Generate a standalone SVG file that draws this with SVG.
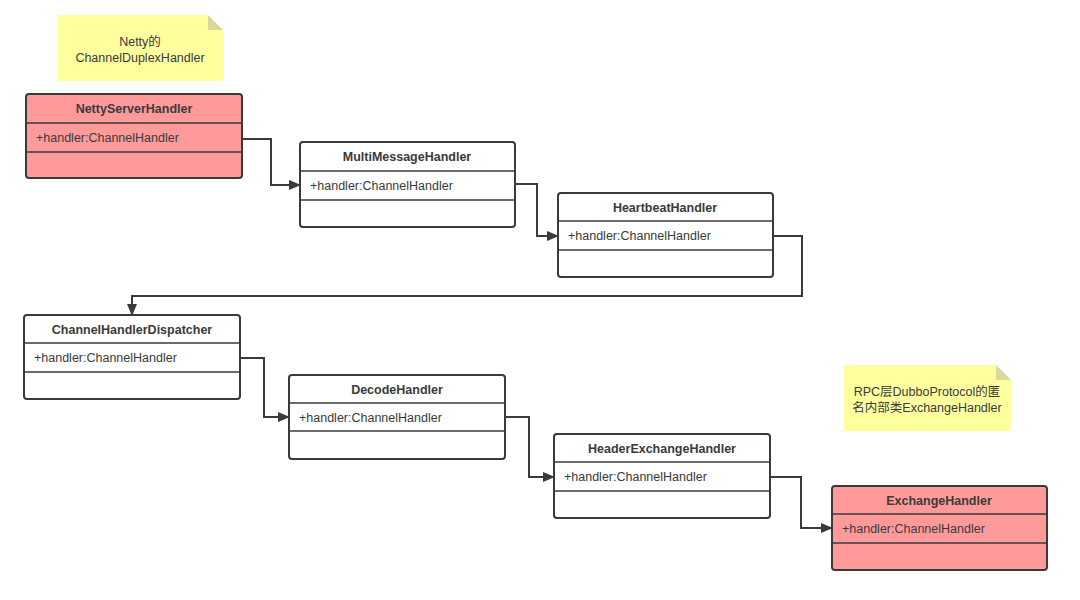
<svg xmlns="http://www.w3.org/2000/svg" width="1080" height="600" viewBox="0 0 1080 600">
<defs>
<style>
.box{fill:#fff;stroke:#3a3a3a;stroke-width:2}
.pink{fill:#ff9a9a}
.div{stroke:#3a3a3a;stroke-width:1.5}
.title{font-family:"Liberation Sans","Noto Sans",Arial,sans-serif;font-size:12.5px;font-weight:bold;fill:#3a3a3a;text-anchor:middle}
.attr{font-family:"Liberation Sans","Noto Sans",Arial,sans-serif;font-size:12.5px;fill:#3a3a3a}
.note{fill:#ffff9e}
.fold{fill:#d9d99a}
.ntext{font-family:"Liberation Sans","Noto Sans CJK SC",sans-serif;font-size:12.5px;fill:#3a3a3a;text-anchor:middle}
.conn{fill:none;stroke:#3a3a3a;stroke-width:2}
</style>
<marker id="arr" markerWidth="12" markerHeight="10" refX="11" refY="5" orient="auto" markerUnits="userSpaceOnUse">
<path d="M0,0 L12,5 L0,10 Z" fill="#3a3a3a"/>
</marker>
</defs>
<rect width="1080" height="600" fill="#fff"/>

<g id="note1">
<path class="note" d="M58,15 H208 L223,30 V81 H58 Z"/>
<path class="fold" d="M208,15 L223,30 H208 Z"/>
<text class="ntext" x="140" y="46">Netty的</text>
<text class="ntext" x="140" y="62">ChannelDuplexHandler</text>
</g>

<g id="note2">
<path class="note" d="M844,365 H996 L1011,380 V431 H844 Z"/>
<path class="fold" d="M996,365 L1011,380 H996 Z"/>
<text class="ntext" x="927" y="396">RPC层DubboProtocol的匿</text>
<text class="ntext" x="927" y="412">名内部类ExchangeHandler</text>
</g>

<g id="NettyServerHandler">
<rect class="box pink" x="26" y="94" width="216" height="84" rx="3"/>
<line class="div" x1="26" y1="123" x2="242" y2="123"/>
<line class="div" x1="26" y1="152" x2="242" y2="152"/>
<text class="title" x="134" y="113">NettyServerHandler</text>
<text class="attr" x="36" y="142">+handler:ChannelHandler</text>
</g>

<g id="MultiMessageHandler">
<rect class="box" x="300" y="142" width="215" height="85" rx="3"/>
<line class="div" x1="300" y1="171" x2="515" y2="171"/>
<line class="div" x1="300" y1="200" x2="515" y2="200"/>
<text class="title" x="407" y="161">MultiMessageHandler</text>
<text class="attr" x="310" y="190">+handler:ChannelHandler</text>
</g>

<g id="HeartbeatHandler">
<rect class="box" x="558" y="193" width="215" height="84" rx="3"/>
<line class="div" x1="558" y1="221" x2="773" y2="221"/>
<line class="div" x1="558" y1="250" x2="773" y2="250"/>
<text class="title" x="665" y="212">HeartbeatHandler</text>
<text class="attr" x="568" y="240">+handler:ChannelHandler</text>
</g>

<g id="ChannelHandlerDispatcher">
<rect class="box" x="24" y="315" width="216" height="84" rx="3"/>
<line class="div" x1="24" y1="343" x2="240" y2="343"/>
<line class="div" x1="24" y1="372" x2="240" y2="372"/>
<text class="title" x="132" y="334">ChannelHandlerDispatcher</text>
<text class="attr" x="34" y="362">+handler:ChannelHandler</text>
</g>

<g id="DecodeHandler">
<rect class="box" x="289" y="375" width="216" height="84" rx="3"/>
<line class="div" x1="289" y1="403" x2="505" y2="403"/>
<line class="div" x1="289" y1="431" x2="505" y2="431"/>
<text class="title" x="397" y="394">DecodeHandler</text>
<text class="attr" x="299" y="422">+handler:ChannelHandler</text>
</g>

<g id="HeaderExchangeHandler">
<rect class="box" x="554" y="434" width="216" height="84" rx="3"/>
<line class="div" x1="554" y1="462" x2="770" y2="462"/>
<line class="div" x1="554" y1="491" x2="770" y2="491"/>
<text class="title" x="662" y="453">HeaderExchangeHandler</text>
<text class="attr" x="564" y="481">+handler:ChannelHandler</text>
</g>

<g id="ExchangeHandler">
<rect class="box pink" x="832" y="486" width="215" height="84" rx="3"/>
<line class="div" x1="832" y1="514" x2="1047" y2="514"/>
<line class="div" x1="832" y1="543" x2="1047" y2="543"/>
<text class="title" x="939" y="505">ExchangeHandler</text>
<text class="attr" x="842" y="533">+handler:ChannelHandler</text>
</g>

<g id="connectors">
<path class="conn" d="M242,139 H271 V185 H300" marker-end="url(#arr)"/>
<path class="conn" d="M515,184 H537 V236 H558" marker-end="url(#arr)"/>
<path class="conn" d="M773,236 H802 V296 H132 V315" marker-end="url(#arr)"/>
<path class="conn" d="M240,358 H264 V417 H289" marker-end="url(#arr)"/>
<path class="conn" d="M505,417 H529 V477 H554" marker-end="url(#arr)"/>
<path class="conn" d="M770,477 H801 V528 H832" marker-end="url(#arr)"/>
</g>
</svg>
